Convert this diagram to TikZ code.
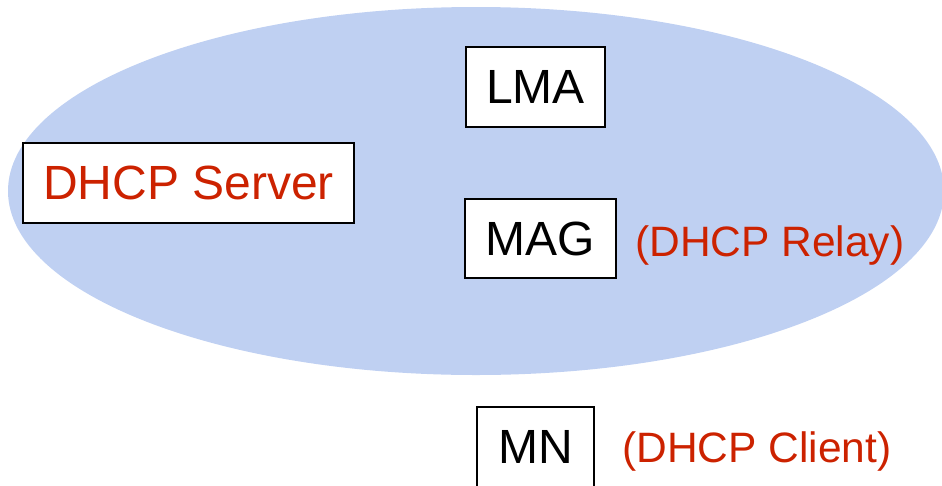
\documentclass[tikz,border=0pt]{standalone}
\usepackage{fontspec}
\setmainfont{Liberation Sans}
\definecolor{cloudblue}{RGB}{191,208,242}
\definecolor{labelred}{RGB}{204,34,0}
\tikzset{
  box/.style={draw=black, fill=white, line width=1.6pt, inner sep=0pt, align=center,
    font=\fontsize{48}{50}\selectfont},
  note/.style={text=labelred, inner sep=0pt, anchor=west, font=\fontsize{42.5}{45}\selectfont}
}
\begin{document}
\begin{tikzpicture}[x=1pt,y=-1pt]
\useasboundingbox (0,0) rectangle (942,485);
\fill[cloudblue] (476,191) ellipse [x radius=468pt, y radius=184pt];
\node[box, minimum width=139pt, minimum height=80pt] (lma) at (535.5,87) {LMA};
\node[box, minimum width=331pt, minimum height=80pt, text=labelred] (server) at (188.5,183) {DHCP Server};
\node[box, minimum width=151pt, minimum height=79pt] (mag) at (540.5,238.5) {MAG};
\node[note] (relay) at (635,246) {(DHCP Relay)};
\node[box, minimum width=117pt, minimum height=80pt] (mn) at (535.5,447) {MN};
\node[note] (client) at (622,451) {(DHCP Client)};
\end{tikzpicture}
\end{document}
